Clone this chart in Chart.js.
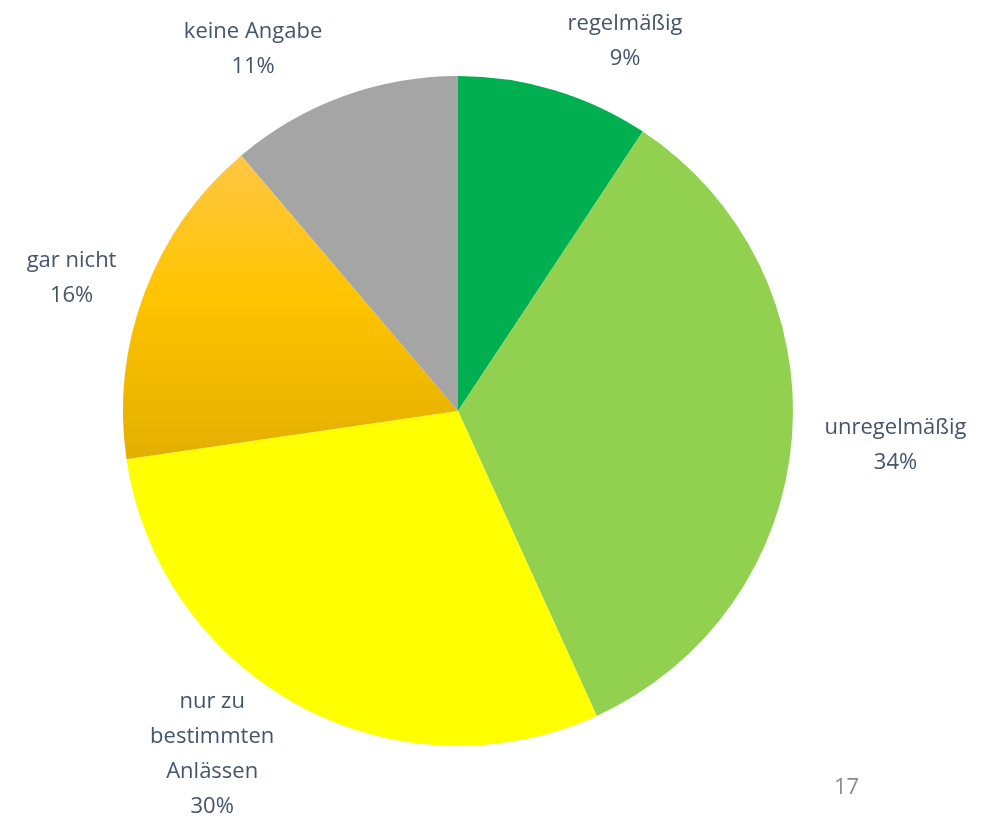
<!DOCTYPE html>
<html>
<head>
<meta charset="utf-8">
<script src="https://cdn.jsdelivr.net/npm/chart.js@4"></script>
<style>
    html, body { margin: 0; padding: 0; background: #ffffff; }
    #wrap { position: relative; width: 993px; height: 818px; }
    #pageNo { position: absolute; left: 834px; top: 770px; font: 22px "Open Sans", sans-serif; color: #8c8c8c; }
</style>
</head>
<body>
<div id="wrap">
    <canvas id="pieChart" width="993" height="818"></canvas>
    <div id="pageNo">17</div>
</div>
<script>
// categories and shares (percent)
const categories = [["regelmäßig"], ["unregelmäßig"], ["nur zu", "bestimmten", "Anlässen"], ["gar nicht"], ["keine Angabe"]];
const shares = [9.3, 33.9, 29.5, 16.1, 11.2];
const percentLabels = ["9%", "34%", "30%", "16%", "11%"];

const sliceColors = ["#00B050", "#92D050", "#FFFF00", "#FFC000", "#A5A5A5"];

// label placement: extra angle (deg, clockwise) and distance as factor of radius
const labelPlacement = [
    { da: 7.6, k: 1.21 },
    { da: 0, k: 1.31 },
    { da: 7.0, k: 1.26 },
    { da: -1.7, k: 1.22 },
    { da: -9.4, k: 1.24 }
];

const ctx = document.getElementById("pieChart").getContext("2d");

// slice colours; the orange one gets a vertical gradient
function sliceFill(context) {
    const i = context.dataIndex;
    const chart = context.chart;
    const area = chart.chartArea;
    if (i !== 3 || !area) return sliceColors[i];
    const cy = (area.top + area.bottom) / 2;
    const r = Math.min(area.right - area.left, area.bottom - area.top) / 2;
    const g = chart.ctx.createLinearGradient(0, cy - r * 0.76, 0, cy + r * 0.15);
    g.addColorStop(0, "#FFC745");
    g.addColorStop(0.45, "#FFC400");
    g.addColorStop(1, "#E3AF00");
    return g;
}

const outsideLabels = {
    id: "outsideLabels",
    afterDraw(chart) {
        const c = chart.ctx;
        const meta = chart.getDatasetMeta(0);
        c.save();
        c.font = '22px "Open Sans", sans-serif';
        c.fillStyle = "#44546A";
        c.textAlign = "center";
        c.textBaseline = "middle";
        meta.data.forEach((arc, i) => {
            const mid = (arc.startAngle + arc.endAngle) / 2 + labelPlacement[i].da * Math.PI / 180;
            const r = arc.outerRadius * labelPlacement[i].k;
            const cx = arc.x + Math.cos(mid) * r;
            const cy = arc.y + Math.sin(mid) * r;
            const lines = categories[i].concat([percentLabels[i]]);
            const lh = 35;
            const y0 = cy - (lines.length - 1) * lh / 2;
            lines.forEach((t, j) => c.fillText(t, cx, y0 + j * lh));
        });
        c.restore();
    }
};

new Chart(ctx, {
    type: "pie",
    data: {
        labels: categories.map(l => l.join(" ")),
        datasets: [{
            data: shares,
            backgroundColor: sliceFill,
            borderWidth: 0
        }]
    },
    options: {
        responsive: false,
        animation: false,
        layout: { padding: { left: 123, right: 200, top: 76, bottom: 72 } },
        plugins: {
            legend: { display: false },
            tooltip: { enabled: false }
        }
    },
    plugins: [outsideLabels]
});
</script>
</body>
</html>
